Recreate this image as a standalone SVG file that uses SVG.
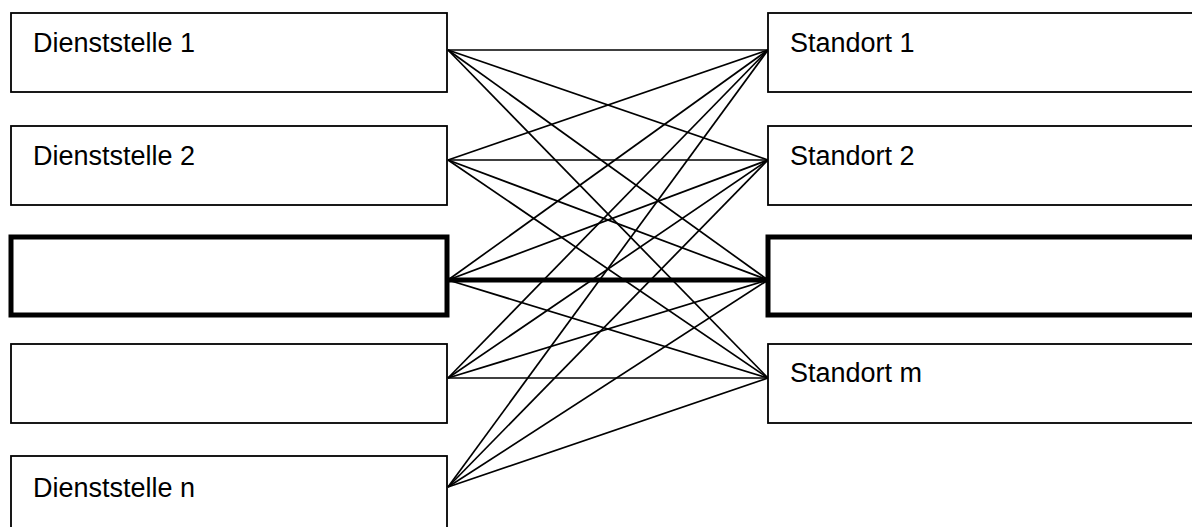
<svg xmlns="http://www.w3.org/2000/svg" width="1192" height="527" viewBox="0 0 1192 527">
<style>
.box{fill:#fff;stroke:#000;stroke-width:1.8}
.bold{fill:#fff;stroke:#000;stroke-width:5}
.lbl{font-family:"Liberation Sans",Arial,sans-serif;font-size:27px;fill:#000}
.c{stroke:#000;stroke-width:1.7;fill:none}
.cb{stroke:#000;stroke-width:5;fill:none}
</style>
<rect width="1192" height="527" fill="#fff"/>
<g id="connectors">
<line class="c" x1="448" y1="50" x2="768" y2="50"/>
<line class="c" x1="448" y1="50" x2="768" y2="160"/>
<line class="c" x1="448" y1="50" x2="768" y2="280"/>
<line class="c" x1="448" y1="50" x2="768" y2="378"/>
<line class="c" x1="448" y1="160" x2="768" y2="50"/>
<line class="c" x1="448" y1="160" x2="768" y2="160"/>
<line class="c" x1="448" y1="160" x2="768" y2="280"/>
<line class="c" x1="448" y1="160" x2="768" y2="378"/>
<line class="c" x1="448" y1="280" x2="768" y2="50"/>
<line class="c" x1="448" y1="280" x2="768" y2="160"/>
<line class="cb" x1="448" y1="280" x2="768" y2="280"/>
<line class="c" x1="448" y1="280" x2="768" y2="378"/>
<line class="c" x1="448" y1="378" x2="768" y2="50"/>
<line class="c" x1="448" y1="378" x2="768" y2="160"/>
<line class="c" x1="448" y1="378" x2="768" y2="280"/>
<line class="c" x1="448" y1="378" x2="768" y2="378"/>
<line class="c" x1="448" y1="487" x2="768" y2="50"/>
<line class="c" x1="448" y1="487" x2="768" y2="160"/>
<line class="c" x1="448" y1="487" x2="768" y2="280"/>
<line class="c" x1="448" y1="487" x2="768" y2="378"/>
</g>
<g id="d1"><rect class="box" x="11" y="13" width="436" height="79"/><text class="lbl" x="33" y="52">Dienststelle 1</text></g>
<g id="d2"><rect class="box" x="11" y="126" width="436" height="79"/><text class="lbl" x="33" y="165">Dienststelle 2</text></g>
<g id="d3"><rect class="bold" x="11" y="237" width="436" height="78"/></g>
<g id="d4"><rect class="box" x="11" y="344" width="436" height="79"/></g>
<g id="dn"><rect class="box" x="11" y="456" width="436" height="100"/><text class="lbl" x="33" y="497">Dienststelle n</text></g>
<g id="s1"><rect class="box" x="768" y="13" width="440" height="79"/><text class="lbl" x="790" y="52">Standort 1</text></g>
<g id="s2"><rect class="box" x="768" y="126" width="440" height="79"/><text class="lbl" x="790" y="165">Standort 2</text></g>
<g id="s3"><rect class="bold" x="768" y="237" width="440" height="78"/></g>
<g id="sm"><rect class="box" x="768" y="344" width="440" height="79"/><text class="lbl" x="790" y="382">Standort m</text></g>
</svg>
